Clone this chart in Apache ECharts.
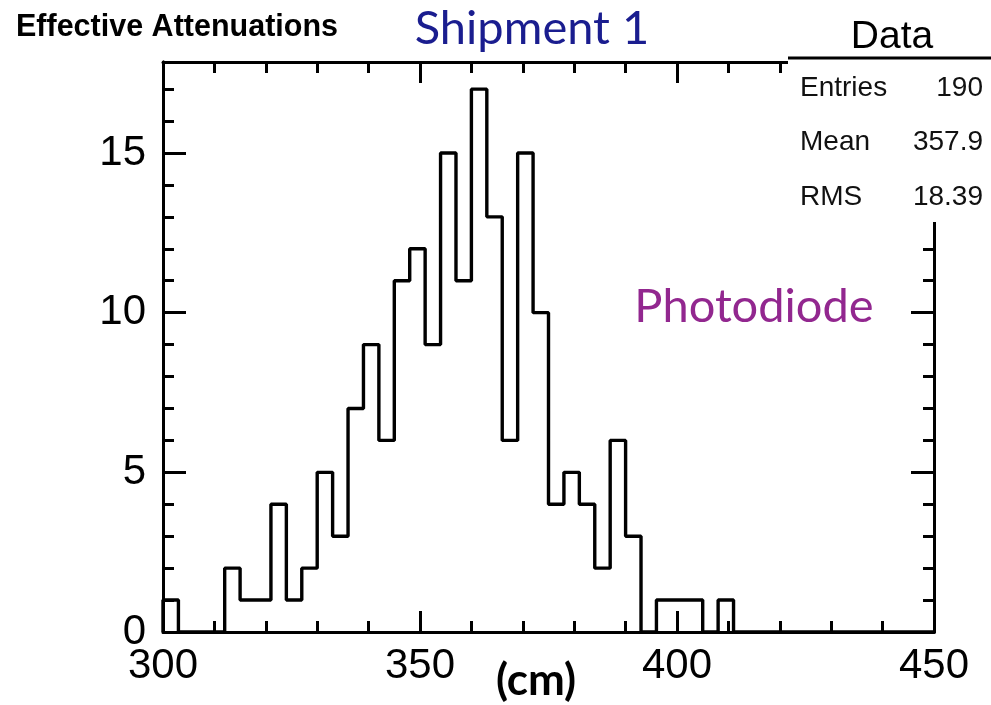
<!DOCTYPE html>
<html>
<head>
<meta charset="utf-8">
<script src="https://cdn.jsdelivr.net/npm/echarts@6/dist/echarts.min.js"></script>
<style>
html,body{margin:0;padding:0;background:#fff;}
#chart{width:991px;height:705px;}
</style>
</head>
<body>
<div id="chart"></div>
<script>
// Histogram bin lower edges (cm), bin width 3
const binStarts = [300,303,306,309,312,315,318,321,324,327,330,333,336,339,342,345,348,351,354,357,
                   360,363,366,369,372,375,378,381,384,387,390,393,396,399,402,405,408,411,414,417,
                   420,423,426,429,432,435,438,441,444,447];
const binEnd = 450;
// Counts per bin
const counts = [1,0,0,0,2,1,1,4,1,2,5,3,7,9,6,11,12,9,15,11,
                17,13,6,15,10,4,5,4,2,6,3,0,1,1,1,0,1,0,0,0,
                0,0,0,0,0,0,0,0,0,0];
const statLabels = ['Entries','Mean','RMS'];
const statValues = ['190','357.9','18.39'];
const xMin = 300, xMax = 450, yMax = 17.85;

const pts = [[binStarts[0], 0]];
for (let i = 0; i < binStarts.length; i++) pts.push([binStarts[i], counts[i]]);
pts.push([binEnd, 0]);

const SANS = '"Liberation Sans", Arial, Helvetica, sans-serif';
const GEO = 'Lato, "Noto Sans", sans-serif';
const LW = 3;

function xAx(pos, labels) {
  return {
    type: 'value', position: pos, min: xMin, max: xMax, interval: 50,
    axisLine: {show: true, onZero: false, lineStyle: {color: '#000', width: LW}},
    axisTick: {show: true, inside: true, length: 21, lineStyle: {color: '#000', width: LW}},
    minorTick: {show: true, splitNumber: 5, length: 11, lineStyle: {color: '#000', width: LW}},
    axisLabel: {show: labels, color: '#000', fontSize: 42, fontFamily: SANS, margin: 13},
    splitLine: {show: false}, minorSplitLine: {show: false}
  };
}
function yAx(pos, major) {
  return {
    type: 'value', position: pos, min: 0, max: yMax, interval: major ? 5 : 1,
    axisLine: {show: true, onZero: false, lineStyle: {color: '#000', width: LW}},
    axisTick: {show: true, inside: true, length: major ? 23 : 11, lineStyle: {color: '#000', width: LW}},
    axisLabel: {show: major && pos === 'left', color: '#000', fontSize: 42, fontFamily: SANS, margin: 17,
      formatter: v => (Math.abs(v % 5) < 1e-9 ? String(v) : '')},
    splitLine: {show: false}
  };
}

const statGraphics = [];
const statBaselines = [88, 142, 197];
statLabels.forEach((t, i) => {
  statGraphics.push({type: 'text', z: 102, x: 800, y: statBaselines[i],
    style: {text: t, fill: '#111', font: '28px ' + SANS, align: 'left', verticalAlign: 'middle', textAlign: 'left', textVerticalAlign: 'middle'}});
  statGraphics.push({type: 'text', z: 102, x: 983, y: statBaselines[i],
    style: {text: statValues[i], fill: '#111', font: '28px ' + SANS, align: 'right', verticalAlign: 'middle', textAlign: 'right', textVerticalAlign: 'middle'}});
});

const chart = echarts.init(document.getElementById('chart'), null, {renderer: 'canvas'});
chart.setOption({
  backgroundColor: '#fff',
  animation: false,
  grid: {left: 163, right: 57, top: 62, bottom: 73, containLabel: false},
  xAxis: [xAx('bottom', true), xAx('top', false)],
  yAxis: [yAx('left', true), yAx('left', false), yAx('right', true), yAx('right', false)],
  series: [{
    type: 'line', xAxisIndex: 0, yAxisIndex: 0, step: 'end', data: pts,
    symbol: 'none', clip: true,
    lineStyle: {color: '#000', width: 3.4}, z: 1
  }],
  graphic: [
    {type: 'rect', z: 100, shape: {x: 788, y: 58, width: 203, height: 164}, style: {fill: '#fff'}},
    {type: 'line', z: 101, shape: {x1: 788, y1: 58, x2: 991, y2: 58}, style: {stroke: '#000', lineWidth: 3}},
    {type: 'text', z: 102, x: 16, y: 28,
      style: {text: 'Effective Attenuations', fill: '#000', font: 'bold 30.5px ' + SANS, align: 'left', verticalAlign: 'middle', textAlign: 'left', textVerticalAlign: 'middle'}},
    {type: 'text', z: 102, x: 532, y: 29,
      style: {text: 'Shipment 1', fill: '#1a1d8f', font: '47px ' + GEO, align: 'center', verticalAlign: 'middle', textAlign: 'center', textVerticalAlign: 'middle'}},
    {type: 'text', z: 102, x: 892, y: 37,
      style: {text: 'Data', fill: '#000', font: '39px ' + SANS, align: 'center', verticalAlign: 'middle', textAlign: 'center', textVerticalAlign: 'middle'}},
    {type: 'text', z: 102, x: 754, y: 307,
      style: {text: 'Photodiode', fill: '#92278f', font: '47px ' + GEO, align: 'center', verticalAlign: 'middle', textAlign: 'center', textVerticalAlign: 'middle'}},
    {type: 'text', z: 102, x: 536, y: 681,
      style: {text: '(cm)', fill: '#000', font: 'bold 44px ' + GEO, align: 'center', verticalAlign: 'middle', textAlign: 'center', textVerticalAlign: 'middle'}}
  ].concat(statGraphics)
});
</script>
</body>
</html>
